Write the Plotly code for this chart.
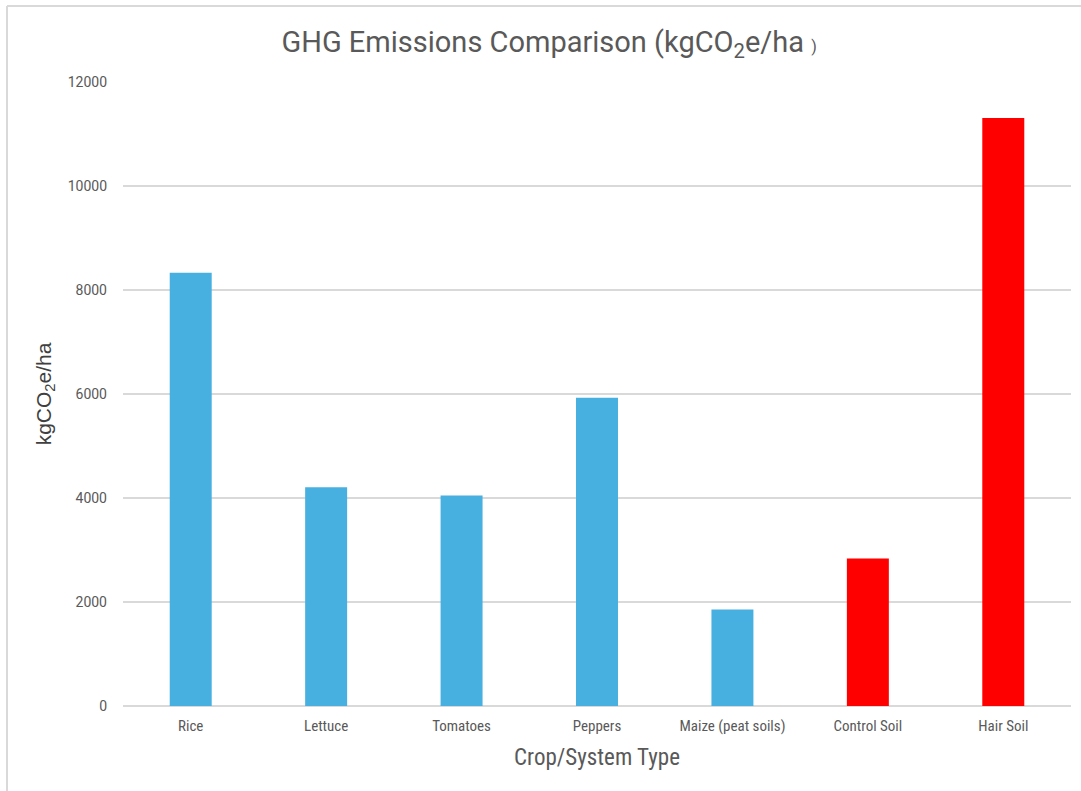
import plotly.graph_objects as go

# Emission data per crop / system (kgCO2e/ha)
categories = ["Rice", "Lettuce", "Tomatoes", "Peppers", "Maize (peat soils)", "Control Soil", "Hair Soil"]
emissions = [8330, 4205, 4046, 5929, 1854, 2835, 11308]
bar_colors = ["#47B0E0", "#47B0E0", "#47B0E0", "#47B0E0", "#47B0E0", "#FF0000", "#FF0000"]
y_ticks = [0, 2000, 4000, 6000, 8000, 10000, 12000]

NARROW = "Roboto Condensed, Liberation Sans Narrow, Roboto, sans-serif"
REGULAR = "Roboto, Liberation Sans, Arial, sans-serif"

fig = go.Figure(
    go.Bar(
        x=categories,
        y=emissions,
        marker=dict(color=bar_colors, line=dict(width=0)),
        width=0.31,
        hoverinfo="x+y",
    )
)

fig.update_layout(
    width=1081,
    height=791,
    margin=dict(l=123, r=10, t=82, b=85),
    paper_bgcolor="white",
    plot_bgcolor="white",
    showlegend=False,
    bargap=0.69,
    title=dict(
        text="GHG Emissions Comparison (kgCO<sub>2</sub>e/ha <span style='font-size:16px'>)</span>",
        x=0.508,
        xanchor="center",
        y=0.947,
        yanchor="middle",
        font=dict(family=REGULAR, size=29, color="#595959"),
    ),
    xaxis=dict(
        showgrid=False,
        showline=False,
        zeroline=False,
        ticks="",
        ticklabelstandoff=9,
        tickfont=dict(family=NARROW, size=15, color="#595959"),
        title=dict(
            text="Crop/System Type",
            font=dict(family=NARROW, size=23, color="#595959"),
            standoff=14,
        ),
    ),
    yaxis=dict(
        range=[0, 12000],
        tickvals=y_ticks,
        ticktext=[str(v) for v in y_ticks],
        showgrid=True,
        gridcolor="#D9D9D9",
        gridwidth=1.5,
        zeroline=True,
        zerolinecolor="#D9D9D9",
        zerolinewidth=1.5,
        showline=False,
        ticks="",
        ticklabelstandoff=15,
        tickfont=dict(family=REGULAR, size=14, color="#595959"),
        title=dict(
            text="kgCO<sub>2</sub>e/ha",
            font=dict(family="Liberation Sans, Arial, sans-serif", size=21, color="#404040"),
            standoff=10,
        ),
    ),
    shapes=[
        # chart-area frame (left and top edges)
        dict(type="line", xref="paper", yref="paper",
             x0=-116 / 948, x1=-116 / 948, y0=-85 / 624, y1=1 + 76 / 624,
             line=dict(color="#D9D9D9", width=2)),
        dict(type="line", xref="paper", yref="paper",
             x0=-116 / 948, x1=1 + 10 / 948, y0=1 + 76 / 624, y1=1 + 76 / 624,
             line=dict(color="#D9D9D9", width=2)),
    ],
)

fig.write_html("out.html")
